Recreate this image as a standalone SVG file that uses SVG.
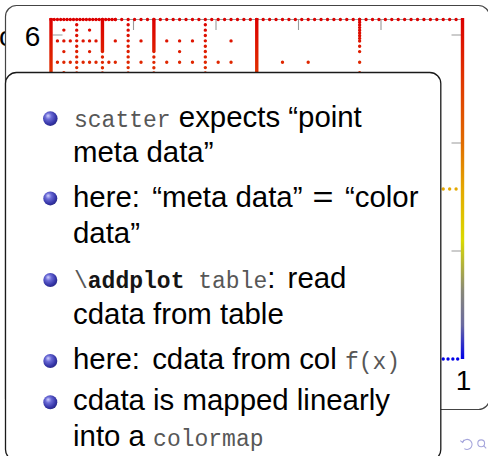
<svg xmlns="http://www.w3.org/2000/svg" width="488" height="456" viewBox="0 0 488 456">
<style>
.box{fill:#fff;stroke:#444;stroke-width:1.2}
.front{fill:#fff;stroke:#1a1a1a;stroke-width:1.3}
.dot{fill:none;stroke:url(#cmap);stroke-linecap:round;stroke-width:3.4}
.bar{fill:none;stroke:url(#cmap);stroke-width:3.4}
.tick{stroke:#9a9a9a;stroke-width:1.1;fill:none}
.lbl{font-family:"Liberation Sans",Arial,sans-serif;font-size:28px;fill:#000}
.t{font-family:"Liberation Sans",Arial,sans-serif;font-size:29.4px;fill:#000}
.m{font-family:"Liberation Mono","Courier New",monospace;font-size:23px;fill:#575757}
.b{font-weight:bold;fill:#151515}
.nav{fill:none;stroke:#a6a6dc;stroke-width:1.1}
</style>
<defs>
<linearGradient id="cmap" gradientUnits="userSpaceOnUse" x1="0" y1="19" x2="0" y2="359">
<stop offset="0" stop-color="#dc0000"/>
<stop offset="0.165" stop-color="#e03200"/>
<stop offset="0.365" stop-color="#e06c00"/>
<stop offset="0.5" stop-color="#e4a800"/>
<stop offset="0.65" stop-color="#dada00"/>
<stop offset="0.8" stop-color="#888878"/>
<stop offset="0.9" stop-color="#6a6aa0"/>
<stop offset="1" stop-color="#0000e8"/>
</linearGradient>
<radialGradient id="ball" cx="0.42" cy="0.4" r="0.62" fx="0.34" fy="0.3">
<stop offset="0" stop-color="#d0d0ff"/>
<stop offset="0.35" stop-color="#6a6ad6"/>
<stop offset="0.8" stop-color="#3434a6"/>
<stop offset="1" stop-color="#2a2a88"/>
</radialGradient>
</defs>

<text class="lbl" x="-1" y="45.7">c</text>

<g id="plot-frame">
<rect class="box" x="5.5" y="5.5" width="484" height="404" rx="11"/>
</g>

<g id="plot">
<line class="tick" x1="51" y1="19.5" x2="462.5" y2="19.5"/>
<path class="tick" d="M133.5 19.5v10.5M216 19.5v10.5M298.5 19.5v10.5M381 19.5v10.5M52.5 35h10M451.5 35h10M451.5 143h10M451.5 251h10"/>
<text class="lbl" x="32.5" y="45.7" text-anchor="middle">6</text>
<text class="lbl" x="463.5" y="389.5" text-anchor="middle">1</text>
<line class="dot" x1="51" y1="19.5" x2="115.3" y2="19.5" stroke-dasharray="0 3.215"/>
<line class="dot" x1="115.3" y1="19.5" x2="462.5" y2="19.5" stroke-dasharray="0 6.43"/>
<line class="bar" x1="51" y1="18" x2="51" y2="80"/>
<line class="bar" x1="256.76" y1="18" x2="256.76" y2="80"/>
<line class="bar" x1="462.5" y1="18" x2="462.5" y2="359"/>
<line class="dot" x1="102.44" y1="19.5" x2="102.44" y2="51.6"/>
<line class="dot" x1="153.88" y1="19.5" x2="153.88" y2="51.6"/>
<line class="dot" x1="76.72" y1="24.8" x2="76.72" y2="78.4" stroke-dasharray="0 5.35"/>
<line class="dot" x1="128.16" y1="24.8" x2="128.16" y2="78.4" stroke-dasharray="0 5.35"/>
<line class="dot" x1="205.32" y1="24.8" x2="205.32" y2="78.4" stroke-dasharray="0 5.35"/>
<line class="dot" x1="102.44" y1="57" x2="102.44" y2="78.4" stroke-dasharray="0 5.35"/>
<line class="dot" x1="153.88" y1="57" x2="153.88" y2="78.4" stroke-dasharray="0 5.35"/>
<line class="dot" x1="359.64" y1="19.5" x2="359.64" y2="43" stroke-dasharray="0 2.7"/>
<path class="dot" d="M63.86 30.1h0M89.58 30.1h0
M57.43 40.9h0M63.86 40.9h0M70.29 40.9h0M83.15 40.9h0M89.58 40.9h0M96.01 40.9h0M115.3 40.9h0M141.02 40.9h0M166.74 40.9h0M179.6 40.9h0M192.46 40.9h0M231.04 40.9h0
M63.86 51.6h0M89.58 51.6h0M179.6 51.6h0
M57.43 62.3h0M63.86 62.3h0M70.29 62.3h0M83.15 62.3h0M89.58 62.3h0M96.01 62.3h0M108.87 62.3h0M115.3 62.3h0M141.02 62.3h0M166.74 62.3h0M179.6 62.3h0M192.46 62.3h0M218.18 62.3h0M231.04 62.3h0M282.48 62.3h0M308.2 62.3h0
M63.86 72.8h0
M359.64 46.3h0M359.64 51.6h0M359.64 62.3h0M359.64 72.8h0
M443.2 189h0M449.66 189h0M456.09 189h0"/>
<line class="dot" x1="443.2" y1="359" x2="462.5" y2="359" stroke-dasharray="0 4.83"/>
</g>

<g id="nav">
<path class="nav" d="M462.6 442.2A5 5 0 1 1 464.3 448.6"/>
<path class="nav" d="M460.3 440.6l2.3 1.8l1.6-2.6"/>
<circle class="nav" cx="481.2" cy="443.3" r="3.4"/>
<path class="nav" d="M483.6 445.7l2.6 2.6"/>
</g>

<g id="content-box">
<rect class="front" x="5.5" y="72.5" width="435.3" height="388" rx="11"/>
</g>

<g id="bullets" fill="url(#ball)">
<circle cx="50.3" cy="118.6" r="7.3"/>
<circle cx="50.3" cy="198.4" r="7"/>
<circle cx="50.3" cy="280" r="7"/>
<circle cx="50.3" cy="361" r="7"/>
<circle cx="50.3" cy="402.3" r="7"/>
</g>

<g id="items">
<text class="t" x="74" y="126.5"><tspan class="m">scatter</tspan> expects “point</text>
<text class="t" x="73" y="162">meta data”</text>
<text class="t" x="73" y="206.5">here:<tspan dx="4"> “meta data”</tspan></text>
<text class="t" x="312.5" y="206.5" textLength="21" lengthAdjust="spacingAndGlyphs">=</text>
<text class="t" x="345" y="206.5">“color</text>
<text class="t" x="73" y="242.5">data”</text>
<text class="t" x="74" y="288"><tspan class="m">\</tspan><tspan class="m b">addplot</tspan><tspan class="m"> table</tspan>:<tspan dx="4"> read</tspan></text>
<text class="t" x="73" y="323.5">cdata from table</text>
<text class="t" x="73" y="369">here:<tspan dx="4"> cdata from col </tspan><tspan class="m">f(x)</tspan></text>
<text class="t" x="73" y="410">cdata is mapped linearly</text>
<text class="t" x="73" y="446">into a <tspan class="m">colormap</tspan></text>
</g>
</svg>
